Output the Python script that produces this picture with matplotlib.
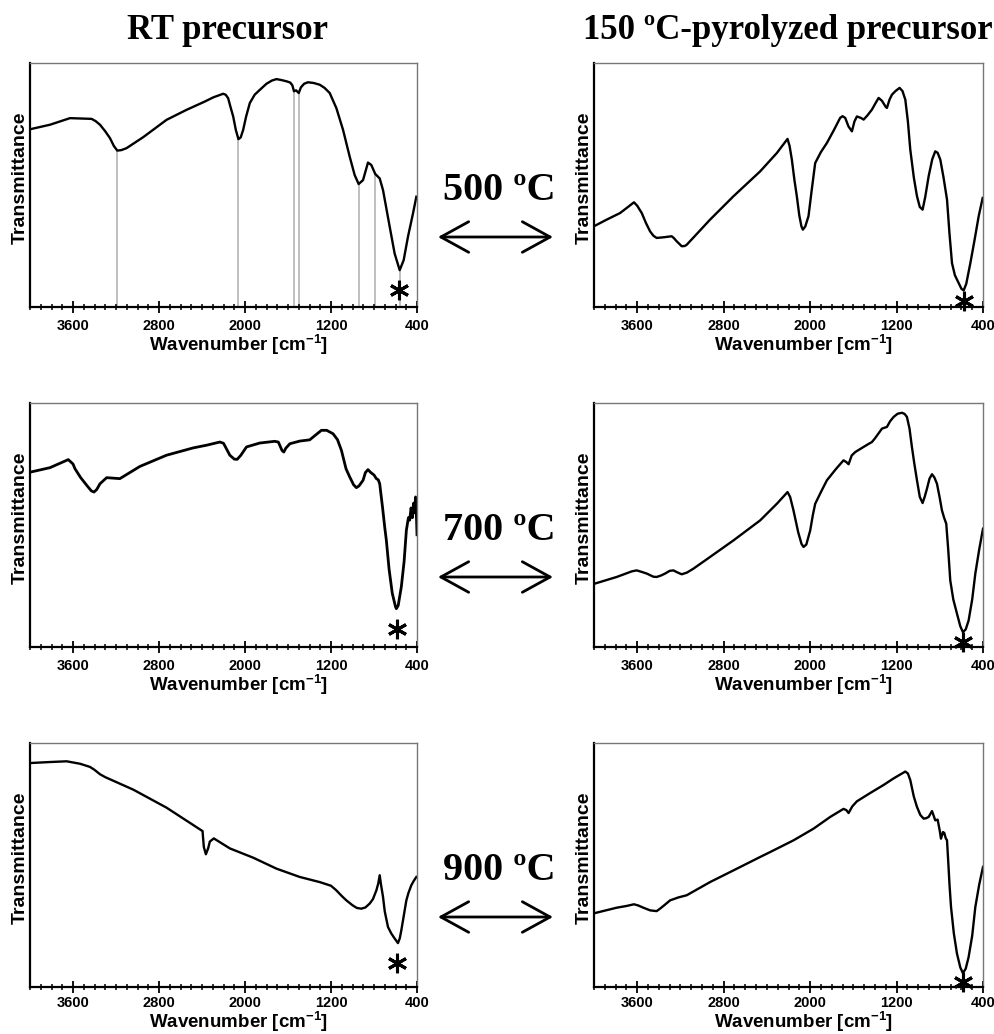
import numpy as np
import matplotlib.pyplot as plt
from matplotlib.patches import FancyArrowPatch
from matplotlib.ticker import MultipleLocator, FixedLocator

plt.rcParams['font.family'] = ['Liberation Sans', 'DejaVu Sans']
plt.rcParams['mathtext.fontset'] = 'custom'
plt.rcParams['mathtext.rm'] = 'Liberation Sans:bold'
plt.rcParams['mathtext.bf'] = 'Liberation Sans:bold'

# Spectra (wavenumber, transmittance in % of panel height)
rt500_wn = [3994, 3814, 3628, 3427, 3390, 3349, 3300, 3256, 3220, 3188, 3150, 3102, 2947, 2730, 2544,
            2374, 2296, 2240, 2203, 2180, 2157, 2135, 2110, 2085, 2061, 2040, 2017, 1990, 1955, 1910,
            1862, 1800, 1750, 1707, 1660, 1614, 1580, 1560, 1544, 1525, 1500, 1480, 1450, 1414, 1360,
            1305, 1260, 1212, 1150, 1088, 1026, 980, 943, 902, 856, 825, 788, 747, 716, 654, 608, 561,
            524, 484, 437, 406]
rt500_t = [72.9, 74.7, 77.4, 77.1, 76.2, 74.7, 72.0, 69.2, 66.0, 64.1, 64.3, 65.1, 69.6, 76.7, 80.8,
           84.2, 85.9, 86.8, 87.4, 87.0, 85.6, 82.0, 78.1, 72.5, 68.8, 69.5, 72.6, 78.0, 83.6, 87.0,
           89.0, 91.5, 92.8, 93.4, 93.0, 92.5, 92.0, 90.9, 88.4, 88.8, 87.7, 90.0, 91.5, 92.1, 91.8,
           91.1, 89.8, 87.7, 81.5, 72.6, 61.6, 54.1, 50.4, 52.0, 59.2, 58.2, 54.5, 52.7, 47.9, 32.9,
           21.9, 15.1, 19.2, 28.8, 38.4, 45.2]
rt500_bands = [3188, 2061, 1544, 1500, 943, 788, 561]

py500_wn = [3991, 3883, 3759, 3700, 3630, 3600, 3558, 3520, 3481, 3450, 3420, 3350, 3281, 3260, 3234,
            3188, 3160, 3142, 2926, 2709, 2462, 2308, 2250, 2209, 2190, 2169, 2145, 2123, 2100, 2080,
            2067, 2045, 2015, 1985, 1953, 1900, 1845, 1780, 1722, 1700, 1675, 1645, 1613, 1590, 1567,
            1530, 1505, 1470, 1428, 1395, 1366, 1335, 1300, 1289, 1265, 1243, 1210, 1172, 1145, 1119,
            1095, 1073, 1040, 1011, 985, 959, 935, 903, 870, 842, 820, 795, 765, 733, 710, 687, 660,
            625, 600, 579, 555, 517, 480, 440, 403]
py500_t = [33.3, 35.8, 38.5, 40.5, 42.9, 41.5, 38.5, 34.5, 31.0, 29.2, 28.3, 28.6, 29.0, 28.2, 26.9,
           24.9, 25.0, 25.5, 35.8, 45.4, 55.6, 63.1, 66.5, 68.9, 66.0, 60.4, 52.0, 45.4, 37.5, 33.0,
           31.7, 33.0, 37.2, 48.0, 59.0, 63.5, 67.2, 72.5, 77.5, 78.2, 77.5, 74.0, 72.0, 76.0, 78.1,
           77.5, 76.8, 78.5, 80.9, 83.5, 85.7, 84.5, 82.0, 81.6, 85.0, 87.0, 88.5, 89.8, 88.5, 85.0,
           76.0, 64.5, 53.0, 45.4, 41.0, 39.9, 45.0, 53.6, 60.5, 63.8, 63.2, 60.4, 53.0, 44.0, 30.0,
           18.0, 13.0, 9.8, 7.5, 6.8, 9.5, 18.0, 27.0, 37.2, 44.7]

rt700_wn = [3994, 3814, 3644, 3600, 3582, 3530, 3473, 3430, 3405, 3380, 3349, 3287, 3164, 2978, 2730,
            2482, 2358, 2234, 2200, 2170, 2141, 2100, 2073, 2040, 1986, 1862, 1723, 1690, 1677, 1655,
            1639, 1620, 1583, 1490, 1398, 1340, 1289, 1240, 1181, 1140, 1103, 1060, 1026, 990, 964,
            940, 902, 880, 856, 830, 800, 778, 760, 747, 720, 700, 685, 660, 630, 600, 592, 575, 546,
            520, 499, 480, 468, 455, 443, 431, 422, 413, 404, 400]
rt700_t = [71.7, 73.5, 76.8, 75.0, 73.1, 69.5, 66.3, 64.0, 63.5, 64.5, 66.9, 69.4, 69.0, 74.0, 78.6,
           81.6, 82.7, 84.0, 83.5, 81.0, 78.6, 77.0, 76.9, 78.5, 82.0, 83.6, 84.3, 84.0, 82.7, 80.5,
           79.9, 81.5, 83.3, 84.4, 84.9, 87.0, 88.8, 88.8, 87.4, 85.0, 80.6, 73.0, 69.7, 66.5, 65.3,
           66.0, 68.3, 71.5, 72.7, 71.5, 70.5, 69.0, 68.5, 66.9, 57.0, 49.0, 43.7, 32.0, 22.0, 16.5,
           15.7, 17.0, 24.6, 35.0, 47.8, 53.0, 52.0, 57.0, 53.0, 59.0, 55.0, 61.5, 52.0, 46.0]

py700_wn = [3991, 3790, 3650, 3605, 3560, 3512, 3450, 3420, 3380, 3342, 3300, 3265, 3230, 3188, 3140,
            3080, 2926, 2709, 2462, 2308, 2250, 2209, 2185, 2154, 2110, 2080, 2061, 2035, 1999, 1975,
            1953, 1900, 1845, 1760, 1691, 1665, 1644, 1615, 1582, 1505, 1460, 1428, 1400, 1335, 1289,
            1260, 1227, 1190, 1150, 1125, 1104, 1080, 1058, 1035, 1011, 985, 959, 940, 919, 895, 872,
            850, 826, 800, 780, 760, 740, 722, 703, 675, 641, 610, 586, 560, 533, 500, 471, 435, 400]
py700_t = [26.0, 28.7, 31.0, 31.4, 30.8, 30.1, 28.8, 28.7, 29.3, 30.1, 31.2, 31.4, 30.6, 29.8, 30.5,
           32.1, 36.9, 43.7, 51.9, 58.7, 61.5, 63.5, 61.5, 56.0, 47.0, 42.3, 41.0, 42.0, 47.8, 54.0,
           58.7, 63.5, 68.3, 73.0, 76.5, 75.8, 74.9, 78.5, 79.9, 82.0, 83.2, 84.0, 85.5, 89.5, 90.2,
           92.5, 94.3, 95.6, 96.0, 95.5, 94.3, 89.5, 82.0, 75.0, 68.3, 61.5, 59.0, 61.5, 64.8, 69.0,
           70.8, 69.5, 66.9, 61.0, 56.0, 53.0, 50.5, 40.0, 27.3, 19.5, 13.7, 8.5, 6.1, 7.2, 10.9,
           19.5, 30.1, 40.0, 48.5]

rt900_wn = [3994, 3814, 3659, 3535, 3442, 3400, 3349, 3300, 3040, 2730, 2395, 2383, 2364, 2343, 2327,
            2290, 2141, 1924, 1707, 1491, 1305, 1200, 1150, 1100, 1057, 1000, 960, 918, 880, 840, 810,
            778, 760, 747, 735, 716, 700, 670, 640, 610, 577, 560, 546, 520, 499, 480, 453, 430, 406]
rt900_t = [91.8, 92.2, 92.5, 91.5, 90.2, 89.0, 87.2, 86.0, 80.9, 73.5, 63.9, 57.4, 54.4, 56.8, 59.6,
           60.9, 56.8, 53.0, 48.5, 45.1, 43.0, 41.5, 39.6, 37.3, 35.5, 33.5, 32.4, 32.1, 32.6, 34.2,
           36.0, 39.6, 42.5, 45.8, 42.0, 36.9, 31.0, 24.6, 22.0, 20.0, 18.0, 20.0, 23.2, 30.0, 35.5,
           38.5, 41.7, 43.5, 45.1]

py900_wn = [3991, 3790, 3700, 3630, 3590, 3543, 3480, 3420, 3389, 3350, 3296, 3220, 3142, 2926, 2709,
            2462, 2370, 2154, 1968, 1814, 1691, 1665, 1644, 1610, 1567, 1444, 1320, 1227, 1150, 1119,
            1095, 1073, 1040, 1011, 980, 949, 925, 903, 872, 855, 842, 820, 800, 789, 770, 758, 745,
            733, 720, 710, 696, 670, 641, 610, 586, 560, 533, 500, 471, 435, 400]
py900_t = [30.3, 32.5, 33.2, 33.9, 33.4, 32.5, 31.4, 31.1, 32.1, 33.5, 35.5, 36.7, 37.6, 43.0, 47.8,
           53.3, 55.3, 60.1, 64.9, 69.7, 73.0, 72.5, 71.3, 74.0, 76.1, 79.5, 82.8, 85.5, 87.5, 88.3,
           87.5, 84.8, 78.0, 73.8, 70.5, 69.0, 69.2, 69.7, 72.1, 70.0, 68.3, 68.6, 64.0, 60.8, 63.5,
           63.1, 61.0, 60.1, 50.0, 42.0, 32.8, 22.0, 13.7, 8.0, 5.7, 7.5, 12.3, 21.0, 32.8, 42.0,
           49.2]

# asterisk markers (wavenumber, height)
star_wn = [571, 579, 586, 586, 586, 586]
star_t = [7.0, 2.5, 7.5, 2.0, 9.8, 2.0]

temps = ['500 ºC', '700 ºC', '900 ºC']
col_titles = ['RT precursor', '150 ºC-pyrolyzed precursor']
tick_vals = [3600, 2800, 2000, 1200, 400]

W, H = 995, 1034
fig = plt.figure(figsize=(W / 100, H / 100), dpi=100)


def fx(px):
    return px / W


def fy(py):
    return 1 - py / H


panels = [
    (rt500_wn, rt500_t), (py500_wn, py500_t),
    (rt700_wn, rt700_t), (py700_wn, py700_t),
    (rt900_wn, rt900_t), (py900_wn, py900_t),
]
lefts = [30, 594]
widths = [387, 389]
tops = [63, 403, 743]
ax_h = 244

for i, (wn, t) in enumerate(panels):
    r, c = divmod(i, 2)
    ax = fig.add_axes([fx(lefts[c]), fy(tops[r] + ax_h), widths[c] / W, ax_h / H])
    ax.plot(wn, t, color='black', lw=1.7 if i != 2 else 2.0, solid_joinstyle='round')
    if i == 0:
        for b in rt500_bands:
            top = np.interp(b, wn[::-1], t[::-1])
            ax.plot([b, b], [0, top], color='#b4b4b4', lw=1.2, zorder=1)
    ax.plot(star_wn[i], star_t[i], marker=(6, 2, 0), ms=14, mew=2.2, color='black',
            clip_on=False)
    ax.set_xlim(4000, 400)
    ax.set_ylim(0, 100)
    ax.xaxis.set_major_locator(FixedLocator(tick_vals))
    ax.xaxis.set_minor_locator(MultipleLocator(100))
    ax.tick_params(axis='x', which='major', direction='inout', length=9, width=1.3,
                   labelsize=10.5, pad=4 if r < 2 else 2)
    ax.tick_params(axis='x', which='minor', direction='inout', length=5, width=1.1)
    for lab in ax.get_xticklabels():
        lab.set_fontweight('bold')
    ax.set_yticks([])
    for s in ['left', 'bottom']:
        ax.spines[s].set_linewidth(1.6)
        ax.spines[s].set_color('black')
    for s in ['top', 'right']:
        ax.spines[s].set_linewidth(1.0)
        ax.spines[s].set_color('#777777')
    ax.set_xlabel(r'Wavenumber [cm$^{-1}$]', fontsize=13.5, fontweight='bold', va='center')
    ax.xaxis.set_label_coords(0.54, -0.156 if r < 2 else -0.143)
    ax.set_ylabel('Transmittance', fontsize=14, fontweight='bold')
    ax.yaxis.set_label_coords(-0.004, 0.53)

for c, title in enumerate(col_titles):
    cx = [228, 788][c]
    fig.text(fx(cx), fy(39), title, ha='center', va='baseline', fontsize=25,
             fontweight='bold', family=['Liberation Serif', 'DejaVu Serif'])

for r, lab in enumerate(temps):
    fig.text(fx(499), fy(200 + 340 * r), lab, ha='center', va='baseline', fontsize=29,
             fontweight='bold', family=['Liberation Serif', 'DejaVu Serif'])
    ya = fy(237 + 340 * r)
    arr = FancyArrowPatch((fx(438), ya), (fx(553), ya), transform=fig.transFigure,
                          arrowstyle='<->,head_length=1.0,head_width=0.55', mutation_scale=20,
                          lw=2.0, color='black', shrinkA=0, shrinkB=0)
    fig.add_artist(arr)

fig.savefig('out.png', dpi=100, facecolor='white')
